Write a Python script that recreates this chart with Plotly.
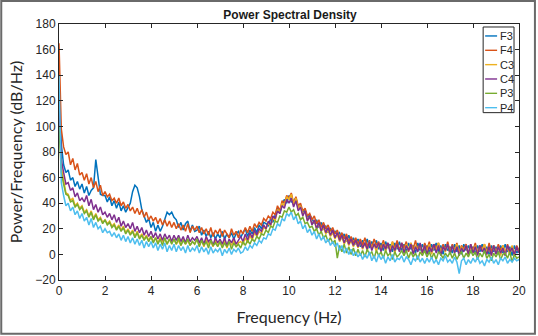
import plotly.graph_objects as go

# Frequency axis (Hz), 0.1 Hz resolution
freq = [round(i * 0.1, 1) for i in range(201)]

F3 = [130, 86, 70, 64, 66, 58, 60, 53, 57, 51,
      55, 48, 53, 46, 50, 52, 74, 62, 47, 46,
      46, 41, 45, 38, 42, 36, 41, 34, 38, 33,
      36, 40, 49, 54, 52, 45, 35, 30, 25, 28,
      21, 25, 18, 23, 18, 22, 27, 33, 31, 33,
      29, 27, 21, 25, 19, 24, 26, 18, 23, 18,
      19, 22, 15, 19, 14, 18, 13, 17, 12, 16,
      13, 18, 12, 16, 13, 17, 12, 16, 18, 13,
      17, 20, 14, 19, 16, 21, 17, 23, 20, 25,
      24, 22, 28, 25, 31, 36, 32, 39, 43, 40,
      46, 41, 42, 44, 37, 38, 33, 35, 29, 31,
      28, 24, 27, 21, 25, 20, 22, 17, 20, 17,
      18, 15, 17, 12, 16, 10, 15, 9, 13, 8,
      12, 6, 11, 7, 12, 5, 10, 6, 11, 4,
      9, 3, 10, 5, 8, 2, 9, 4, 10, 3,
      8, 2, 9, 4, 7, 1, 9, 3, 8, 2,
      7, 1, 8, 3, 9, 2, 7, 0, 8, 3,
      6, 1, 8, 2, 7, 0, 8, 3, 7, 1,
      6, 0, 7, 2, 8, 1, 6, 0, 7, 2,
      6, 0, 7, 1, 8, 2, 6, -1, 7, 1,
      4]

F4 = [165, 98, 84, 78, 80, 70, 75, 66, 71, 62,
      64, 58, 63, 55, 60, 52, 57, 49, 54, 46,
      49, 45, 47, 42, 44, 40, 44, 38, 41, 36,
      39, 34, 37, 32, 36, 31, 35, 29, 33, 27,
      30, 26, 29, 24, 28, 23, 27, 22, 26, 21,
      25, 20, 24, 19, 23, 18, 24, 17, 22, 19,
      22, 17, 21, 16, 20, 15, 21, 14, 19, 16,
      20, 14, 19, 16, 13, 20, 15, 18, 13, 19,
      16, 21, 17, 22, 18, 24, 21, 25, 23, 28,
      26, 30, 28, 33, 31, 38, 34, 42, 40, 46,
      44, 48, 40, 45, 38, 40, 34, 36, 30, 32,
      27, 30, 24, 27, 21, 25, 20, 23, 18, 21,
      16, 19, 13, 17, 12, 16, 10, 14, 9, 13,
      8, 12, 7, 13, 6, 11, 5, 12, 7, 10,
      4, 11, 5, 9, 3, 10, 4, 11, 3, 9,
      5, 10, 2, 9, 4, 11, 3, 8, 1, 9,
      4, 10, 2, 8, 5, 9, 1, 8, 3, 10,
      2, 8, 3, 9, 1, 7, 4, 8, 0, 8,
      3, 9, 1, 7, 4, 8, 0, 9, 2, 7,
      1, 8, 3, 7, 0, 8, 2, 6, -1, 7,
      3]

C3 = [110, 68, 58, 48, 47, 42, 44, 38, 40, 36,
      38, 33, 35, 30, 34, 28, 32, 27, 29, 25,
      27, 24, 26, 22, 24, 20, 23, 19, 22, 17,
      20, 16, 19, 14, 18, 13, 16, 12, 15, 11,
      14, 10, 13, 9, 13, 10, 12, 8, 12, 9,
      12, 8, 11, 7, 12, 8, 11, 7, 10, 8,
      12, 7, 11, 6, 12, 8, 10, 6, 11, 7,
      10, 6, 11, 5, 10, 7, 11, 6, 9, 10,
      8, 13, 9, 15, 11, 17, 14, 18, 16, 21,
      20, 25, 22, 29, 26, 35, 33, 40, 38, 45,
      43, 47, 39, 44, 36, 38, 31, 34, 27, 29,
      24, 26, 20, 24, 18, 21, 16, 19, 14, 17,
      12, 16, 10, 14, 8, 12, 7, 11, 6, 10,
      5, 10, 4, 9, 3, 10, 5, 8, 2, 9,
      3, 9, 2, 8, 4, 10, 1, 8, 3, 7,
      2, 8, 4, 9, 1, 7, 3, 8, 0, 7,
      2, 8, 0, 7, 3, 9, 1, 6, 2, 8,
      1, 7, 2, 8, 0, 6, 3, 7, -1, 6,
      2, 7, 0, 6, 3, 8, 1, 5, -1, 7,
      1, 6, -1, 7, 2, 5, 0, 7, 1, 5,
      2]

C4 = [120, 74, 64, 55, 56, 50, 52, 45, 48, 42,
      44, 41, 46, 38, 43, 35, 39, 33, 37, 31,
      33, 29, 32, 27, 31, 25, 29, 22, 26, 21,
      24, 20, 25, 18, 22, 17, 21, 15, 19, 14,
      18, 13, 17, 12, 16, 11, 16, 12, 15, 10,
      15, 11, 15, 10, 14, 9, 15, 10, 13, 11,
      14, 9, 13, 8, 14, 10, 12, 7, 13, 9,
      12, 8, 13, 7, 12, 9, 13, 8, 11, 14,
      10, 16, 11, 17, 13, 19, 15, 20, 18, 23,
      20, 26, 23, 30, 28, 34, 32, 38, 36, 43,
      40, 44, 37, 42, 34, 37, 30, 34, 26, 30,
      23, 27, 20, 25, 18, 23, 17, 21, 15, 19,
      13, 17, 11, 15, 9, 14, 8, 12, 7, 11,
      6, 10, 5, 9, 4, 10, 3, 8, 5, 9,
      2, 8, 4, 9, 1, 7, 3, 8, 2, 9,
      1, 7, 3, 8, 0, 6, 2, 9, 1, 7,
      0, 6, 2, 8, 1, 7, -1, 6, 3, 8,
      0, 7, 1, 6, -1, 5, 2, 7, 0, 8,
      1, 6, -1, 7, 2, 5, 0, 6, -1, 7,
      0, 6, 1, 5, -1, 7, 2, 5, 0, 6,
      1]

P3 = [100, 64, 55, 47, 46, 41, 42, 37, 39, 35,
      37, 32, 34, 29, 33, 27, 31, 26, 28, 24,
      27, 23, 25, 21, 23, 19, 22, 18, 21, 16,
      19, 15, 18, 13, 17, 12, 15, 11, 14, 10,
      14, 9, 13, 8, 12, 7, 13, 8, 12, 8,
      12, 8, 13, 7, 11, 8, 12, 7, 10, 8,
      12, 6, 11, 7, 10, 5, 11, 7, 9, 6,
      10, 5, 9, 6, 10, 4, 9, 6, 8, 5,
      10, 7, 11, 8, 12, 10, 14, 12, 16, 15,
      19, 17, 22, 21, 26, 25, 30, 29, 34, 33,
      37, 33, 35, 30, 32, 27, 29, 24, 25, 21,
      22, 18, 20, 15, 18, 13, 15, 10, 13, 9,
      11, -3, 7, 2, 8, 1, 6, 0, 5, -1,
      4, -1, 3, -2, 4, 0, 2, -3, 3, -1,
      2, -3, 3, -1, 1, -4, 2, -2, 0, 3,
      -1, 3, -3, 2, -2, 1, -4, 2, -1, 3,
      -2, 2, -3, 1, -4, 2, 0, -3, 1, -2,
      2, -3, 1, -4, 0, 2, -3, 1, -2, 3,
      -1, 2, -4, 1, -2, 3, -3, 0, -5, 1,
      -2, 2, -4, 0, 1, -3, 2, -6, 0, -3,
      -2]

P4 = [140, 56, 46, 38, 40, 34, 37, 31, 34, 28,
      32, 26, 29, 23, 28, 21, 25, 20, 22, 17,
      20, 17, 18, 14, 17, 13, 16, 11, 15, 10,
      14, 9, 13, 8, 12, 7, 11, 5, 10, 6,
      10, 5, 9, 3, 8, 4, 9, 2, 7, 3,
      8, 2, 7, 3, 6, 1, 7, 2, 5, 3,
      7, 1, 6, 2, 5, 0, 6, 1, 4, 2,
      5, -1, 4, 1, 5, 0, 4, 2, 5, 1,
      2, 6, 3, 7, 5, 9, 7, 11, 9, 13,
      12, 16, 15, 20, 19, 24, 22, 28, 26, 32,
      30, 33, 27, 30, 24, 26, 20, 23, 17, 20,
      15, 18, 12, 16, 11, 14, 9, 12, 7, 10,
      6, 9, 3, 7, 1, 5, 0, 4, -1, 2,
      -2, 1, -4, 0, -3, 2, -5, -1, -6, 0,
      -4, -1, -7, -2, -5, 0, -6, -3, -4, -1,
      -6, -2, -4, -8, -3, -5, -1, -6, -3, -7,
      -3, -6, -2, -7, -4, -8, -3, -5, -1, -6,
      -4, -7, -2, -6, -15, -5, -3, -8, -4, -7,
      -3, -6, -2, -7, -5, -9, -4, -6, -2, -7,
      -4, -8, -3, -5, -2, -7, -4, -6, -3, -5,
      -4]

series_names = ["F3", "F4", "C3", "C4", "P3", "P4"]
series_values = [F3, F4, C3, C4, P3, P4]
colors = ["#0072BD", "#D95319", "#EDB120", "#7E2F8E", "#77AC30", "#4DBEEE"]

x_ticks = list(range(0, 21, 2))
y_ticks = list(range(-20, 181, 20))

W, H = 538, 336
ml, mr, mt, mb = 59, 17, 24, 55
pw, ph = W - ml - mr, H - mt - mb


def px_x(p):
    return (p - ml) / pw


def px_y(p):
    return 1 - (p - mt) / ph


fig = go.Figure()
for name, vals, col in zip(series_names, series_values, colors):
    fig.add_trace(go.Scatter(x=freq, y=vals, mode="lines", name=name,
                             line=dict(color=col, width=1.5), showlegend=False))

axis_common = dict(showline=True, linecolor="#262626", linewidth=1,
                   mirror="allticks", ticks="inside", ticklen=4,
                   tickcolor="#262626", showgrid=False, zeroline=False,
                   tickfont=dict(family="Liberation Sans, Arial", size=12, color="#262626"))

fig.update_layout(
    width=W, height=H,
    margin=dict(l=ml, r=mr, t=mt, b=mb),
    paper_bgcolor="white", plot_bgcolor="white",
    title=dict(text="<b>Power Spectral Density</b>", x=(ml + pw / 2) / W, xanchor="center",
               y=1 - 15 / H, yanchor="middle",
               font=dict(family="Liberation Sans, Arial", size=12, color="#1a1a1a")),
    xaxis=dict(range=[0, 20], tickvals=x_ticks,
               title=dict(text="Frequency (Hz)", standoff=14,
                          font=dict(family="Lato, Open Sans", size=16, color="#262626")),
               **axis_common),
    yaxis=dict(range=[-20, 180], tickvals=y_ticks,
               title=dict(text="Power/Frequency (dB/Hz)", standoff=8,
                          font=dict(family="Lato, Open Sans", size=16, color="#262626")),
               **axis_common),
    showlegend=False,
)

# legend box (MATLAB style, compact)
lg_left, lg_right, lg_top, lg_bottom = 485, 516, 27, 113
fig.add_shape(type="rect", xref="paper", yref="paper",
              x0=px_x(lg_left), x1=px_x(lg_right), y0=px_y(lg_bottom), y1=px_y(lg_top),
              line=dict(color="#262626", width=1), fillcolor="white", layer="above")
for i, (name, col) in enumerate(zip(series_names, colors)):
    yy = 36 + 14.4 * i
    fig.add_shape(type="line", xref="paper", yref="paper",
                  x0=px_x(487), x1=px_x(499), y0=px_y(yy), y1=px_y(yy),
                  line=dict(color=col, width=1.4), layer="above")
    fig.add_annotation(text=name, xref="paper", yref="paper",
                       x=px_x(500), y=px_y(yy), xanchor="left", yanchor="middle",
                       showarrow=False,
                       font=dict(family="Liberation Sans, Arial", size=11, color="#262626"))

# outer grey frame of the figure image
fig.add_shape(type="rect", xref="paper", yref="paper",
              x0=px_x(1), x1=px_x(W - 1), y0=px_y(H - 1), y1=px_y(1),
              line=dict(color="#6a6a6a", width=2), fillcolor="rgba(0,0,0,0)", layer="above")

fig.write_html("out.html", config={"displayModeBar": False},
               post_script="document.body.style.margin='0px';")
